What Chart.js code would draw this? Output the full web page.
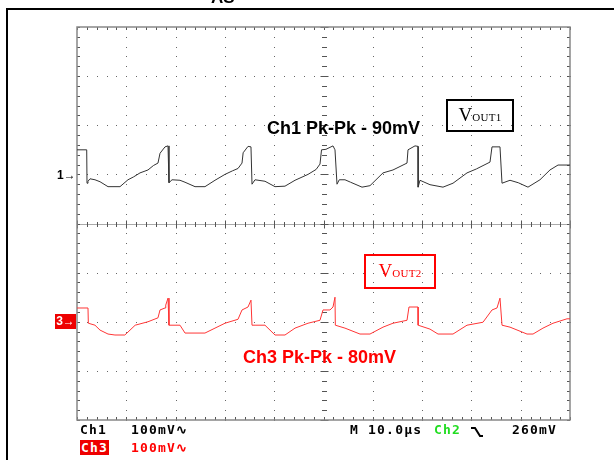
<!DOCTYPE html>
<html>
<head>
<meta charset="utf-8">
<script src="https://cdn.jsdelivr.net/npm/chart.js@4.4.1/dist/chart.umd.min.js"></script>
<style>
  body { margin: 0; background: #fff; }
  #wrap { position: relative; width: 614px; height: 460px; overflow: hidden; }
  #scope { position: absolute; left: 0; top: 0; }
  .frame { position: absolute; left: 6px; top: 8px; width: 700px; height: 600px; border-top: 2px solid #000; border-left: 2px solid #000; }
  .lbl { position: absolute; white-space: nowrap; font-family: "Liberation Sans", Arial, sans-serif; font-weight: bold; }
  .box { position: absolute; box-sizing: border-box; border: 2px solid; font-family: "Liberation Serif", "Times New Roman", serif; text-align: center; }
  .box .v { font-size: 19px; }
  .box .sub { font-size: 11px; letter-spacing: 0.3px; }
  .stat { position: absolute; white-space: nowrap; font-family: "DejaVu Sans Mono", monospace; font-weight: bold; font-size: 13px; letter-spacing: 1.2px; }
</style>
</head>
<body>
<div id="wrap">
  <canvas id="scope" width="614" height="460"></canvas>
  <div class="frame"></div>
  <div class="lbl" style="left:211px; top:-12px; font-size:17px;">AS</div>

  <div class="lbl" style="left:267px; top:118px; font-size:18px; color:#000;">Ch1 Pk-Pk - 90mV</div>
  <div class="lbl" style="left:243px; top:347px; font-size:18px; color:#ff0000;">Ch3 Pk-Pk - 80mV</div>

  <div class="box" style="left:446px; top:99px; width:68px; height:33px; border-color:#000; color:#000; line-height:27px;"><span class="v">V</span><span class="sub">OUT1</span></div>
  <div class="box" style="left:364px; top:254px; width:72px; height:35px; border-color:#ff0000; color:#ff0000; line-height:29px;"><span class="v">V</span><span class="sub">OUT2</span></div>

  <div class="lbl" style="left:57px; top:168px; font-size:12px; color:#000;">1&#8594;</div>
  <div class="lbl" style="left:55px; top:314px; width:21px; height:15px; background:#ee0000; color:#fff; font-size:12px; line-height:15px; text-align:center;">3&#8594;</div>

  <div class="stat" style="left:80px; top:422px; color:#000;">Ch1</div>
  <div class="stat" style="left:131px; top:422px; color:#000;">100mV&#8767;</div>
  <div class="stat" style="left:350px; top:422px; color:#000;">M 10.0&#181;s</div>
  <div class="stat" style="left:434px; top:422px; color:#22dd22;">Ch2</div>
  <svg style="position:absolute; left:470px; top:426px;" width="14" height="12"><polyline points="1,2 5,2 10,10 13,10" fill="none" stroke="#000" stroke-width="2"/></svg>
  <div class="stat" style="left:512px; top:422px; color:#000;">260mV</div>
  <div class="stat" style="left:80px; top:440px; color:#fff; background:#ee0000; padding:0 1px;">Ch3</div>
  <div class="stat" style="left:131px; top:440px; color:#ff0000;">100mV&#8767;</div>
</div>
<script>
// time axis in microseconds (10 us/div), screen volts in mV (100 mV/div)
const ch1Time = [0, 1.97, 2.03, 2.23, 2.64, 3.65, 4.67, 6.29, 8.72, 10.34, 11.5, 12.78, 13.6, 14.4, 15.5, 16.43, 16.84, 17.85, 18.46, 18.66,
  19.27, 20.89, 21.91, 23.94, 25.96, 27.99, 30.02, 31.5, 32.66, 33.47, 33.7, 34.69, 35.29, 35.5,
  36.11, 38.13, 40.16, 42.19, 44.22, 46.86, 48.5, 49.29, 49.6, 50.5, 51.93, 52.33, 52.74,
  53.2, 54.36, 55.5, 57.81, 59.43, 62.07, 64.1, 66.94, 67.14, 68.56, 69.17, 69.2, 69.57, 71.6,
  74.24, 76.27, 79.11, 81, 83.77, 84.18, 85.8, 86.21, 87.83, 89.5, 91.48, 93.91, 95.94, 97.57, 100];
const ch1Volt = [150, 150, 82, 86, 91, 89, 85, 75, 75, 89, 95, 103, 106, 109, 118, 123, 143, 156, 158, 83,
  89, 88, 84, 75, 75, 88, 100, 107, 112, 123, 144, 157, 156, 80,
  89, 86, 75, 76, 88, 100, 110, 121, 150, 151, 158, 150, 80,
  89, 89, 84, 74, 77, 103, 109, 123, 150, 158, 157, 74, 88, 79,
  74, 82, 103, 111, 125, 156, 156, 82, 88, 83, 74, 89, 109, 119, 119];

const ch3Time = [0, 2.23, 2.3, 3.65, 4.67, 6.29, 7.7, 9.7, 10.34, 11.8, 14.4, 16.43, 16.84, 17.85, 18.0, 18.46, 18.66,
  19.27, 20.89, 21.91, 25.96, 27.99, 30.02, 32.66, 33.47, 34.69, 35.29, 35.5,
  36.11, 38.13, 40.16, 42.19, 44.22, 46.86, 49.29, 49.9, 51.32, 51.93, 52.33, 52.4,
  54.36, 57.4, 59.43, 62.07, 64.1, 66.94, 67.34, 69.17, 69.2,
  71.6, 73.23, 76.27, 79.11, 82.35, 84.18, 85.19, 85.8, 86.21, 87.83, 91.28, 92.5, 94.52, 96.55, 99.39, 100];
const ch3Volt = [-172, -172, -203, -207, -217, -225, -227, -227, -221, -207, -200, -192, -176, -172, -166, -152, -207,
  -207, -207, -223, -223, -213, -203, -195, -176, -170, -156, -207,
  -207, -207, -227, -227, -213, -203, -197, -176, -176, -170, -150, -207,
  -213, -225, -225, -211, -203, -197, -170, -170, -207,
  -215, -225, -225, -207, -201, -176, -172, -152, -207, -211, -225, -225, -213, -203, -194, -194];

const X_MIN = 0, X_MAX = 100, X_DIV = 10;
const Y_MIN = -400, Y_MAX = 400, Y_DIV = 100;
const SUB = 5;

const toPoints = (t, v) => t.map((x, i) => ({ x: x, y: v[i] }));

// scope graticule: dotted grid, tick marks on the frame and on the centre cross
const graticule = {
  id: 'graticule',
  beforeDatasetsDraw(chart) {
    const { ctx, scales: { x, y }, chartArea: a } = chart;
    const xStep = X_DIV / SUB, yStep = Y_DIV / SUB;
    ctx.save();
    ctx.fillStyle = '#666';
    // dots along the vertical grid lines
    for (let gx = X_MIN + X_DIV; gx < X_MAX; gx += X_DIV) {
      const px = Math.round(x.getPixelForValue(gx));
      for (let gy = Y_MIN; gy <= Y_MAX; gy += yStep) {
        ctx.fillRect(px, Math.round(y.getPixelForValue(gy)), 1, 1);
      }
    }
    // dots along the horizontal grid lines
    for (let gy = Y_MIN + Y_DIV; gy < Y_MAX; gy += Y_DIV) {
      const py = Math.round(y.getPixelForValue(gy));
      for (let gx = X_MIN; gx <= X_MAX; gx += xStep) {
        ctx.fillRect(Math.round(x.getPixelForValue(gx)), py, 1, 1);
      }
    }
    // centre cross
    const cx = Math.round(x.getPixelForValue((X_MIN + X_MAX) / 2)) + 0.5;
    const cy = Math.round(y.getPixelForValue((Y_MIN + Y_MAX) / 2)) + 0.5;
    ctx.strokeStyle = '#aaa';
    ctx.lineWidth = 1;
    ctx.beginPath();
    ctx.moveTo(a.left, cy); ctx.lineTo(a.right, cy);
    ctx.stroke();
    ctx.strokeStyle = '#555';
    ctx.beginPath();
    for (let gx = X_MIN; gx <= X_MAX; gx += xStep) {
      const px = Math.round(x.getPixelForValue(gx)) + 0.5;
      const h = Math.abs(gx % X_DIV) < 1e-6 ? 4 : 2.5;
      ctx.moveTo(px, cy - h); ctx.lineTo(px, cy + h);
    }
    for (let gy = Y_MIN; gy <= Y_MAX; gy += yStep) {
      const py = Math.round(y.getPixelForValue(gy)) + 0.5;
      const w = Math.abs(gy % Y_DIV) < 1e-6 ? 4 : 2.5;
      ctx.moveTo(cx - w, py); ctx.lineTo(cx + w, py);
    }
    ctx.stroke();
    // frame ticks
    ctx.beginPath();
    for (let gx = X_MIN; gx <= X_MAX; gx += xStep) {
      const px = Math.round(x.getPixelForValue(gx)) + 0.5;
      ctx.moveTo(px, a.top); ctx.lineTo(px, a.top + 3);
      ctx.moveTo(px, a.bottom); ctx.lineTo(px, a.bottom - 3);
    }
    for (let gy = Y_MIN; gy <= Y_MAX; gy += yStep) {
      const py = Math.round(y.getPixelForValue(gy)) + 0.5;
      ctx.moveTo(a.left, py); ctx.lineTo(a.left + 3, py);
      ctx.moveTo(a.right, py); ctx.lineTo(a.right - 3, py);
    }
    ctx.stroke();
    ctx.strokeStyle = '#888';
    ctx.lineWidth = 1.5;
    ctx.strokeRect(a.left, a.top, a.right - a.left, a.bottom - a.top);
    ctx.restore();
  }
};

new Chart(document.getElementById('scope'), {
  type: 'line',
  data: {
    datasets: [
      { label: 'Ch1', data: toPoints(ch1Time, ch1Volt), borderColor: '#333', borderWidth: 1, pointRadius: 0, tension: 0 },
      { label: 'Ch3', data: toPoints(ch3Time, ch3Volt), borderColor: '#ff3535', borderWidth: 1, pointRadius: 0, tension: 0 }
    ]
  },
  options: {
    responsive: false,
    animation: false,
    layout: { padding: { left: 77, right: 44, top: 27, bottom: 40 } },
    plugins: { legend: { display: false }, tooltip: { enabled: false } },
    scales: {
      x: { type: 'linear', min: X_MIN, max: X_MAX, display: false },
      y: { type: 'linear', min: Y_MIN, max: Y_MAX, display: false }
    }
  },
  plugins: [graticule]
});
</script>
</body>
</html>
